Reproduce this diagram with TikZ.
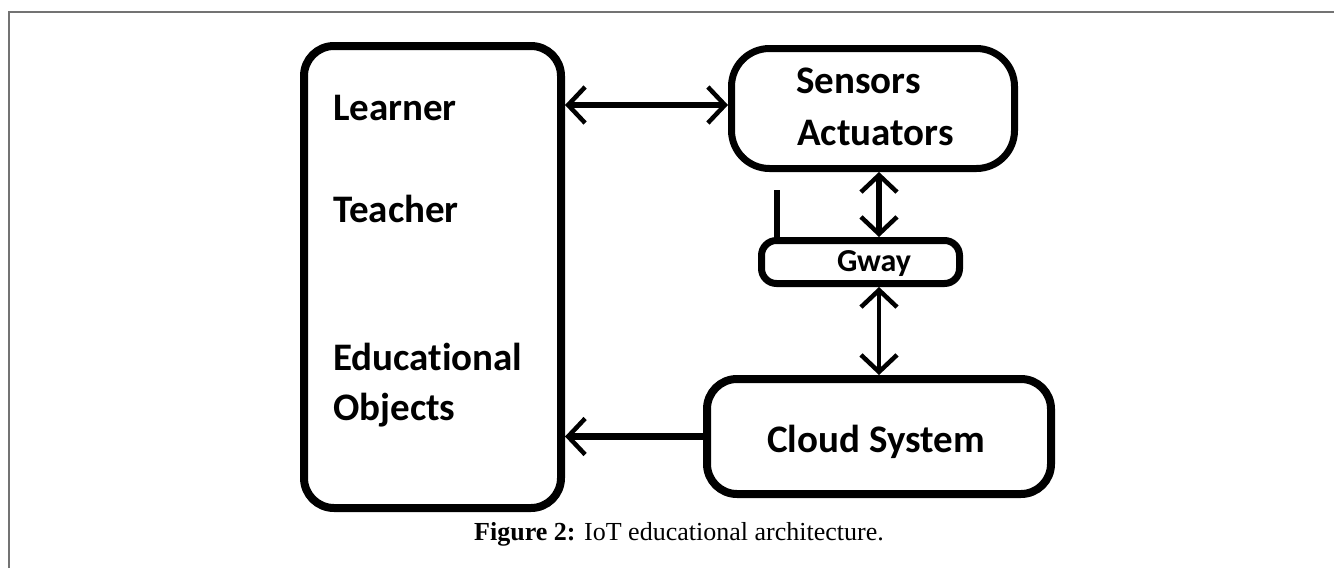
\documentclass[tikz,border=0pt]{standalone}
\usepackage{fontspec}
\setmainfont{Liberation Serif}
\newfontfamily\boxfont{Carlito}[Ligatures=NoCommon]
\usetikzlibrary{arrows.meta}
\tikzset{
  x=1pt, y=-1pt,
  box/.style={draw=black, rounded corners=#1, inner sep=0pt},
  lbl/.style={font=\boxfont\bfseries\fontsize{39}{45}\selectfont, inner sep=0pt, anchor=base west},
  barb/.tip={Straight Barb[length=17pt,width=36pt,line width=4.5pt]},
  conn/.style={line width=#1, line cap=butt}
}
\begin{document}
\begin{tikzpicture}
\useasboundingbox (0,0) rectangle (1334,568);
% frame
\draw[gray!90!black, line width=1.5pt] (9,568) -- (9,12) -- (1334,12);

% boxes
\node[box=30pt, line width=8pt, minimum width=257pt, minimum height=462pt] (left) at (432.5,277) {};
\node[box=38pt, line width=7pt, minimum width=283pt, minimum height=120pt] (sens) at (873,108.5) {};
\node[box=15pt, line width=7pt, minimum width=198pt, minimum height=43pt] (gway) at (860.5,262) {};
\node[box=30pt, line width=8pt, minimum width=344pt, minimum height=115pt] (cloud) at (879,436.5) {};

% texts
\node[lbl] (learner) at (333,120) {Learner};
\node[lbl] (teacher) at (333,222) {Teacher};
\node[lbl] (edu) at (333,370) {Educational};
\node[lbl] (obj) at (333,420) {Objects};
\node[lbl] (sensors) at (796,93) {Sensors};
\node[lbl] (act) at (797,145) {Actuators};
\node[font=\boxfont\bfseries\fontsize{32}{38}\selectfont, inner sep=0pt, anchor=base] (gwaytxt) at (874,271) {Gway};
\node[font=\boxfont\bfseries\fontsize{39}{45}\selectfont, inner sep=0pt, anchor=base] (cloudtxt) at (876,452) {Cloud System};

% antenna
\coordinate (ant) at (777,190);
\draw[line width=6pt] (ant) -- (ant |- gway.north);

% connectors
\draw[conn=6pt, barb-barb] (left.east |- 0,105) -- (sens.west |- 0,105);
\draw[conn=6pt, barb-barb] (sens.south -| cloud.north) -- (gway.north -| cloud.north);
\draw[conn=4pt, barb-barb] (gway.south -| cloud.north) -- (cloud.north);
\draw[conn=7pt, barb-] (left.east |- cloud.west) -- (cloud.west);

% caption
\node[font=\fontsize{26}{30}\selectfont, inner sep=0pt, anchor=base] (cap) at (679,540) {\textbf{Figure 2:} IoT educational architecture.};
\end{tikzpicture}
\end{document}
